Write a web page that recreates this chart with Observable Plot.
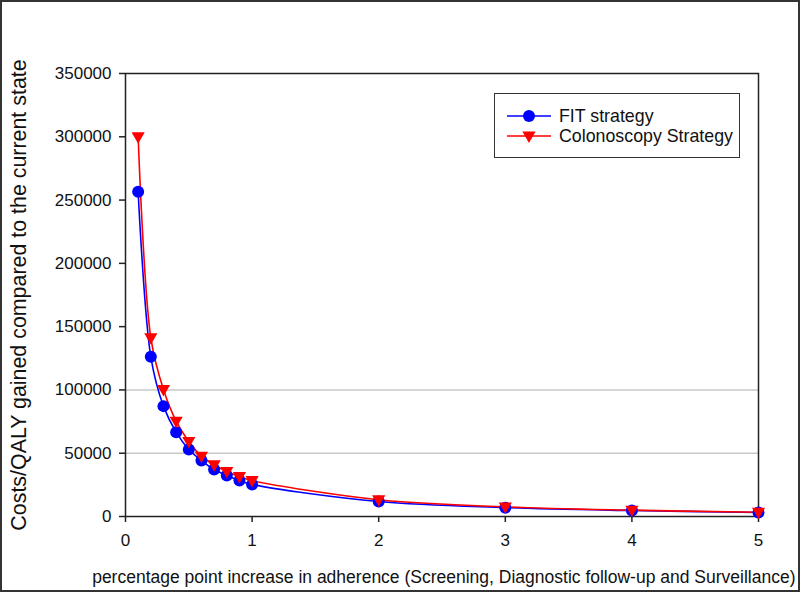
<!DOCTYPE html>
<html><head><meta charset="utf-8">
<script src="https://cdn.jsdelivr.net/npm/d3@7"></script>
<script src="https://cdn.jsdelivr.net/npm/@observablehq/plot@0.6"></script>
<style>
body{margin:0;background:#fff;font-family:"Liberation Sans",Arial,sans-serif;}
#wrap{position:relative;width:800px;height:592px;overflow:hidden;background:#fff}
#border{position:absolute;left:0;top:0;width:800px;height:592px;box-sizing:border-box;border:2px solid #333;pointer-events:none}
#legend{position:absolute;left:494px;top:93px;width:246px;height:65px;box-sizing:border-box;border:1.5px solid #333;background:#fff}
.lrow{position:absolute;left:0;height:20px;width:100%}
.lrow svg{position:absolute;left:11px;top:0}
.lrow span{position:absolute;left:64px;top:0;line-height:20px;font-size:17.8px;color:#111;white-space:nowrap}
</style></head><body><div id="wrap"><div id="border"></div></div>
<script>
// ---- data ----
const adherence = [0.1,0.2,0.3,0.4,0.5,0.6,0.7,0.8,0.9,1,2,3,4,5];
const fitCost = [256500,126200,87200,66600,52900,44200,37100,32400,28400,25300,11800,7000,4700,3200];
const colonoscopyCost = [300000,141200,100300,75300,59300,47700,40800,35600,31600,28400,13200,7600,5000,3400];
const seriesNames = ["FIT strategy","Colonoscopy Strategy"];
const seriesColors = ["#0000ff","#ff0000"];
const xTicks = [0,1,2,3,4,5];
const yTicks = [0,50000,100000,150000,200000,250000,300000,350000];
const gridValues = [50000,100000];
const xTitle = "percentage point increase in adherence (Screening, Diagnostic follow-up and Surveillance)";
const yTitle = "Costs/QALY gained compared to the current state";

// ---- build ----
const fitRows = adherence.map((x,i)=>({x, y: fitCost[i], series: seriesNames[0]}));
const colRows = adherence.map((x,i)=>({x, y: colonoscopyCost[i], series: seriesNames[1]}));

const triangleDown = {
  draw(ctx, size) {
    const r = Math.sqrt(size/Math.PI);
    ctx.moveTo(-r*1.1, -r*0.75);
    ctx.lineTo(r*1.1, -r*0.75);
    ctx.lineTo(0, r*1.15);
    ctx.closePath();
  }
};

const font = "Liberation Sans, Arial, sans-serif";
const chart = Plot.plot({
  width: 800, height: 592,
  marginLeft: 125, marginRight: 42, marginTop: 73, marginBottom: 76,
  style: {fontFamily: font, fontSize: "17px", color: "#111", background: "transparent"},
  x: {domain: [0,5]},
  y: {domain: [0,350000]},
  color: {domain: seriesNames, range: seriesColors},
  marks: [
    Plot.ruleY(gridValues, {stroke: "#c8c8c8", strokeWidth: 1.5}),
    Plot.axisY({ticks: yTicks, tickSize: 6, tickPadding: 8, tickFormat: d => String(d), label: null, fontSize: 17, stroke: "#222", strokeWidth: 1.5}),
    Plot.axisX({ticks: xTicks, tickSize: 6, tickPadding: 11, tickFormat: d => String(d), label: null, fontSize: 17, stroke: "#222", strokeWidth: 1.5}),
    Plot.frame({stroke: "#222", strokeWidth: 1.5}),
    Plot.line(fitRows, {x: "x", y: "y", stroke: "series", strokeWidth: 1.6, curve: "catmull-rom"}),
    Plot.line(colRows, {x: "x", y: "y", stroke: "series", strokeWidth: 1.6, curve: "catmull-rom"}),
    Plot.dot(fitRows, {x: "x", y: "y", fill: "series", r: 6, symbol: "circle"}),
    Plot.dot(colRows, {x: "x", y: "y", fill: "series", r: 6, symbol: triangleDown}),
    Plot.text([yTitle], {frameAnchor: "left", rotate: -90, dx: -106, fontSize: 21.4, textAnchor: "middle", lineAnchor: "middle", fill: "#111"}),
    Plot.text([xTitle], {frameAnchor: "bottom-right", dx: 37, dy: 61, fontSize: 17.5, textAnchor: "end", lineAnchor: "middle", fill: "#111"})
  ]
});
const wrap = document.getElementById("wrap");
wrap.insertBefore(chart, wrap.firstChild);

// legend
const legend = document.createElement("div");
legend.id = "legend";
const rowTops = [12, 32];
seriesNames.forEach((name, i) => {
  const row = document.createElement("div");
  row.className = "lrow";
  row.style.top = rowTops[i] + "px";
  const svg = d3.create("svg").attr("width", 46).attr("height", 20);
  svg.append("line").attr("x1", 1).attr("x2", 45).attr("y1", 10).attr("y2", 10)
    .attr("stroke", seriesColors[i]).attr("stroke-width", 1.6);
  const sym = d3.symbol().type(i === 0 ? d3.symbolCircle : triangleDown).size(36*Math.PI);
  svg.append("path").attr("d", sym()).attr("transform", "translate(23,10)").attr("fill", seriesColors[i]);
  row.appendChild(svg.node());
  const span = document.createElement("span");
  span.textContent = name;
  row.appendChild(span);
  legend.appendChild(row);
});
wrap.appendChild(legend);
</script>
</body></html>
